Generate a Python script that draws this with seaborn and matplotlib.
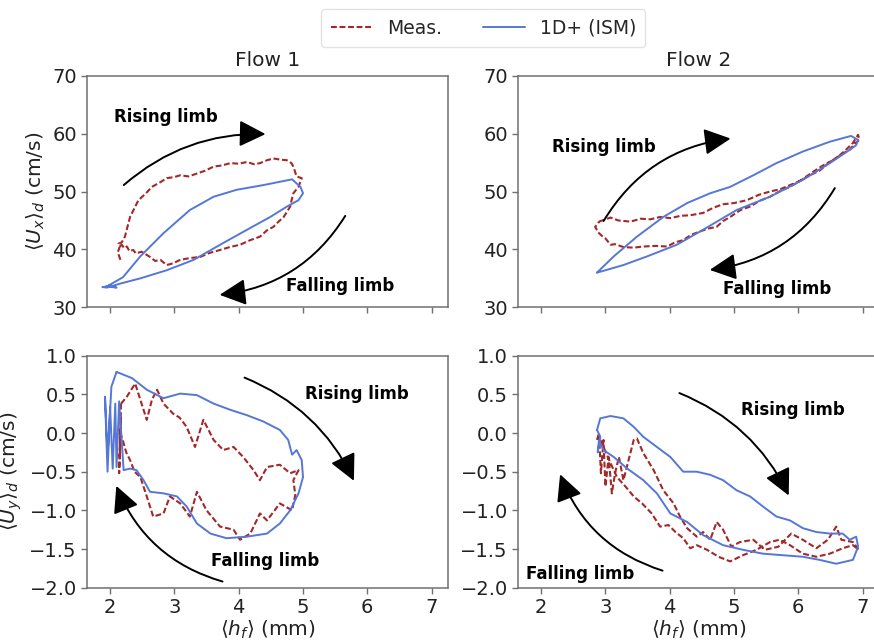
import matplotlib
matplotlib.use("Agg")
import matplotlib.pyplot as plt
import seaborn as sns
import pandas as pd
from matplotlib.patches import FancyArrowPatch

# ---------------- data ----------------
flows = ["Flow 1", "Flow 2"]
series_names = ["Meas.", "1D+ (ISM)"]
x_ticks = [2, 3, 4, 5, 6, 7]
ux_ticks = [30, 40, 50, 60, 70]
uy_ticks = [-2.0, -1.5, -1.0, -0.5, 0.0, 0.5, 1.0]

# Flow 1, <Ux>_d
f1_ux_meas_h = [2.16, 2.12, 2.15, 2.13, 2.18, 2.23, 2.31, 2.44, 2.55, 2.65, 2.78, 2.88, 3.00, 3.09, 3.22,
                3.35, 3.48, 3.61, 3.74, 3.87, 4.00, 4.13, 4.24, 4.33, 4.44, 4.54, 4.65, 4.75, 4.82,
                4.85, 4.90, 4.98, 4.93, 4.85, 4.82, 4.80, 4.75, 4.70, 4.62, 4.54, 4.44, 4.33, 4.18,
                4.02, 3.86, 3.71, 3.55, 3.40, 3.24, 3.09, 2.98, 2.88, 2.78, 2.70, 2.62, 2.49, 2.40,
                2.36, 2.30, 2.26, 2.22, 2.18, 2.15]
f1_ux_meas_u = [38.2, 39.5, 40.5, 41.0, 41.2, 42.2, 45.6, 48.5, 49.6, 50.8, 51.6, 52.3, 52.5, 52.8, 52.6,
                53.1, 53.6, 54.3, 54.5, 54.9, 54.8, 55.1, 54.7, 54.9, 55.4, 55.7, 55.5, 55.4, 54.9,
                54.3, 52.6, 52.3, 50.8, 49.7, 48.4, 47.4, 46.5, 45.6, 44.8, 43.9, 43.3, 42.2, 41.6,
                40.8, 40.4, 39.9, 39.4, 38.7, 38.5, 38.2, 37.6, 37.3, 38.2, 38.0, 38.7, 39.6, 39.3,
                39.9, 39.7, 40.5, 40.2, 40.8, 40.5]
f1_ux_ism_h = [1.90, 2.00, 2.10, 1.95, 2.20, 2.47, 2.83, 3.24, 3.61, 3.97, 4.38, 4.83, 4.96, 5.00, 4.93,
               4.75, 4.49, 4.13, 3.71, 3.30, 2.88, 2.47, 2.16, 1.95, 1.88]
f1_ux_ism_u = [33.5, 33.8, 33.4, 33.6, 35.2, 38.8, 42.8, 46.8, 49.1, 50.3, 51.1, 52.1, 50.8, 49.7, 48.5,
               47.4, 45.6, 43.4, 40.8, 38.2, 36.4, 35.0, 34.1, 33.4, 33.5]

# Flow 2, <Ux>_d
f2_ux_meas_h = [2.90, 3.08, 3.20, 3.39, 3.55, 3.70, 3.85, 4.01, 4.17, 4.32, 4.52, 4.68, 4.83, 5.00, 5.20,
                5.38, 5.56, 5.72, 5.87, 6.02, 6.18, 6.33, 6.49, 6.62, 6.75, 6.85, 6.93, 6.95, 6.88,
                6.80, 6.68, 6.54, 6.40, 6.23, 6.05, 5.87, 5.72, 5.56, 5.40, 5.25, 5.10, 4.94, 4.83,
                4.73, 4.60, 4.47, 4.33, 4.21, 4.08, 3.96, 3.78, 3.59, 3.44, 3.28, 3.15, 3.08, 3.00,
                2.95, 2.90, 2.86, 2.84, 2.88, 2.90]
f2_ux_meas_u = [44.8, 45.5, 45.0, 44.8, 45.3, 45.2, 45.6, 45.4, 45.8, 45.9, 46.3, 47.2, 47.8, 48.0, 48.5,
                49.4, 50.0, 50.4, 51.1, 51.8, 52.8, 53.6, 55.1, 56.0, 57.3, 58.4, 59.8, 58.9, 58.3,
                57.2, 56.5, 55.4, 54.6, 53.4, 52.0, 50.8, 50.1, 49.1, 48.4, 47.4, 46.8, 45.6, 44.9,
                43.9, 43.6, 43.1, 42.5, 41.6, 41.2, 40.5, 40.6, 40.5, 40.3, 40.4, 40.9, 40.8, 41.9,
                42.3, 42.8, 43.5, 43.9, 44.4, 44.8]
f2_ux_ism_h = [2.87, 3.13, 3.49, 3.90, 4.27, 4.63, 4.94, 5.30, 5.66, 6.07, 6.49, 6.82, 6.93, 6.90, 6.80,
               6.49, 6.07, 5.56, 5.04, 4.52, 4.11, 3.65, 3.28, 2.97, 2.87]
f2_ux_ism_u = [36.0, 38.8, 42.2, 45.6, 48.0, 49.7, 50.8, 52.8, 54.9, 56.9, 58.6, 59.6, 58.9, 58.0, 57.2,
               54.9, 52.0, 49.1, 46.8, 43.4, 40.8, 38.8, 37.3, 36.3, 36.0]

# Flow 1, <Uy>_d
f1_uy_meas_h = [2.17, 2.26, 2.39, 2.47, 2.57, 2.65, 2.73, 2.83, 2.98, 3.08, 3.19, 3.32, 3.45, 3.61, 3.76,
                3.92, 4.07, 4.23, 4.33, 4.44, 4.64, 4.80, 4.93, 4.85, 4.88, 4.83, 4.64, 4.44, 4.33,
                4.18, 4.02, 3.92, 3.71, 3.50, 3.35, 3.24, 3.09, 2.93, 2.83, 2.67, 2.57, 2.47, 2.38,
                2.31, 2.25, 2.21, 2.16, 2.14, 2.17, 2.15, 2.17]
f1_uy_meas_u = [0.38, 0.47, 0.64, 0.43, 0.17, 0.43, 0.56, 0.38, 0.25, 0.20, 0.08, -0.18, 0.17, -0.09, -0.22,
                -0.18, -0.31, -0.48, -0.61, -0.44, -0.41, -0.52, -0.48, -0.61, -0.80, -1.00, -0.91, -1.13, -1.04,
                -1.30, -1.38, -1.25, -1.21, -1.00, -0.76, -1.08, -0.91, -0.82, -1.04, -1.08, -0.82, -0.57, -0.50,
                -0.35, -0.25, -0.13, 0.00, -0.52, 0.21, -0.30, 0.38]
f1_uy_ism_h = [2.10, 2.34, 2.57, 2.83, 3.09, 3.35, 3.61, 3.87, 4.13, 4.38, 4.64, 4.77, 4.83, 4.90, 4.98,
               5.00, 4.93, 4.80, 4.64, 4.44, 4.13, 3.81, 3.56, 3.35, 3.19, 3.04, 2.83, 2.62, 2.52,
               2.41, 2.31, 2.21, 2.14, 2.10, 2.08, 2.04, 2.00, 1.96, 1.92, 1.96, 2.02, 2.10]
f1_uy_ism_u = [0.79, 0.71, 0.56, 0.45, 0.51, 0.49, 0.38, 0.30, 0.23, 0.15, 0.04, -0.09, -0.28, -0.22, -0.35,
               -0.57, -0.78, -1.00, -1.17, -1.30, -1.34, -1.36, -1.30, -1.17, -0.95, -0.82, -0.78, -0.76, -0.61,
               -0.48, -0.46, -0.48, 0.41, -0.44, 0.38, -0.46, 0.34, -0.50, 0.47, -0.30, 0.60, 0.79]

# Flow 2, <Uy>_d
f2_uy_meas_h = [2.87, 2.90, 2.93, 2.97, 3.00, 3.05, 3.10, 3.15, 3.21, 3.28, 3.36, 3.44, 3.49, 3.59, 3.75,
                3.90, 4.06, 4.16, 4.27, 4.42, 4.52, 4.63, 4.73, 4.83, 4.96, 5.09, 5.30, 5.48, 5.69,
                5.89, 6.07, 6.28, 6.46, 6.59, 6.67, 6.85, 6.94, 6.85, 6.69, 6.49, 6.28, 6.07, 5.87,
                5.71, 5.56, 5.35, 5.14, 4.94, 4.76, 4.58, 4.42, 4.32, 4.21, 4.09, 3.98, 3.85, 3.72,
                3.57, 3.44, 3.31, 3.18, 3.08, 2.97, 2.90]
f2_uy_meas_u = [-0.09, 0.00, -0.52, -0.09, -0.69, -0.31, -0.78, -0.52, -0.31, -0.61, -0.35, -0.09, -0.07, -0.26, -0.48,
                -0.74, -0.91, -1.08, -1.23, -1.34, -1.28, -1.38, -1.15, -1.25, -1.47, -1.41, -1.38, -1.51, -1.47,
                -1.30, -1.38, -1.49, -1.38, -1.21, -1.38, -1.41, -1.51, -1.45, -1.49, -1.56, -1.60, -1.56, -1.45,
                -1.38, -1.41, -1.51, -1.58, -1.66, -1.60, -1.51, -1.45, -1.49, -1.36, -1.28, -1.19, -1.21, -1.04,
                -0.91, -0.82, -0.69, -0.57, -0.39, -0.18, -0.05]
f2_uy_ism_h = [2.87, 2.92, 3.08, 3.28, 3.44, 3.59, 3.80, 4.01, 4.21, 4.42, 4.63, 4.83, 5.04, 5.25, 5.45,
               5.66, 5.87, 6.07, 6.28, 6.49, 6.69, 6.80, 6.90, 6.93, 6.85, 6.59, 6.33, 6.07, 5.76,
               5.45, 5.14, 4.83, 4.52, 4.27, 4.01, 3.80, 3.59, 3.34, 3.13, 2.97, 2.90, 2.88, 2.92, 2.87]
f2_uy_ism_u = [0.04, 0.19, 0.22, 0.19, 0.08, -0.05, -0.18, -0.31, -0.50, -0.50, -0.54, -0.61, -0.74, -0.82, -0.95,
               -1.08, -1.13, -1.23, -1.28, -1.30, -1.30, -1.38, -1.34, -1.47, -1.64, -1.69, -1.64, -1.60, -1.58,
               -1.56, -1.51, -1.45, -1.32, -1.15, -1.04, -0.78, -0.61, -0.46, -0.31, -0.22, -0.09, -0.25, -0.05, 0.04]

# annotation texts
rising_label = "Rising limb"
falling_label = "Falling limb"

# ---------------- styling ----------------
sns.set_theme(style="ticks")
plt.rcParams['font.family'] = ['DejaVu Sans']
plt.rcParams['mathtext.fontset'] = 'dejavusans'

meas_color = "#a3282a"
ism_color = "#5577d6"
spine_color = "#707070"
text_color = "#222222"

fig = plt.figure(figsize=(8.74, 6.41), dpi=100)
W, H = 874.0, 641.0
ax_w = 360.7 / W
left_x = [87.3 / W, 518.3 / W]
top_y = (641 - 307.3) / H
top_h = (307.3 - 75.7) / H
bot_y = (641 - 587.7) / H
bot_h = (587.7 - 355.7) / H

axes = [[fig.add_axes([left_x[c], top_y, ax_w, top_h]) for c in range(2)],
        [fig.add_axes([left_x[c], bot_y, ax_w, bot_h]) for c in range(2)]]

data = {
    (0, 0): (f1_ux_meas_h, f1_ux_meas_u, f1_ux_ism_h, f1_ux_ism_u),
    (0, 1): (f2_ux_meas_h, f2_ux_meas_u, f2_ux_ism_h, f2_ux_ism_u),
    (1, 0): (f1_uy_meas_h, f1_uy_meas_u, f1_uy_ism_h, f1_uy_ism_u),
    (1, 1): (f2_uy_meas_h, f2_uy_meas_u, f2_uy_ism_h, f2_uy_ism_u),
}

for (r, c), (mh, mu, ih, iu) in data.items():
    ax = axes[r][c]
    dm = pd.DataFrame({"h": mh, "u": mu})
    di = pd.DataFrame({"h": ih, "u": iu})
    sns.lineplot(data=dm, x="h", y="u", sort=False, estimator=None, ax=ax,
                 color=meas_color, lw=1.5, linestyle=(0, (2.8, 1.3)),
                 label=series_names[0] if (r, c) == (0, 0) else None)
    sns.lineplot(data=di, x="h", y="u", sort=False, estimator=None, ax=ax,
                 color=ism_color, lw=1.4,
                 label=series_names[1] if (r, c) == (0, 0) else None)
    ax.set_xlim(1.645, 7.255)
    ax.set_xticks(x_ticks)
    if r == 0:
        ax.set_ylim(30, 70)
        ax.set_yticks(ux_ticks)
        ax.set_xticklabels([])
        ax.set_xlabel("")
        ax.set_title(flows[c], fontsize=14.5, color=text_color, pad=7)
    else:
        ax.set_ylim(-2.0, 1.0)
        ax.set_yticks(uy_ticks)
        ax.set_yticklabels([f"{v:.1f}".replace("-", "\u2212") for v in uy_ticks])
        ax.set_xlabel(r"$\langle h_f\rangle$ (mm)", fontsize=14.5, color=text_color, labelpad=1)
    if c == 0:
        ax.set_ylabel(r"$\langle U_x\rangle_d$ (cm/s)" if r == 0 else r"$\langle U_y\rangle_d$ (cm/s)",
                      fontsize=14.5, color=text_color, labelpad=4)
    else:
        ax.set_ylabel("")
    for s in ax.spines.values():
        s.set_color(spine_color)
        s.set_linewidth(1.1)
    ax.tick_params(colors=spine_color, labelcolor=text_color, labelsize=14, length=4, width=1)
    if ax.get_legend() is not None:
        ax.get_legend().remove()

# legend
handles, labels = axes[0][0].get_legend_handles_labels()
fig.legend(handles, labels, loc="upper center", bbox_to_anchor=(0.553, 1.0), ncol=2,
           fontsize=13.5, frameon=True, fancybox=True, handlelength=2.2, columnspacing=2.2,
           borderpad=0.5, edgecolor="#dddddd")

# arrows and limb texts
def arc(ax, start, end, rad):
    ax.add_patch(FancyArrowPatch(start, end, connectionstyle=f"arc3,rad={rad}",
                                 arrowstyle="-|>,head_length=0.9,head_width=0.45",
                                 mutation_scale=18, color="black", lw=1.4, zorder=5))

def label(ax, x, y, s):
    ax.text(x, y, s, fontsize=12, fontweight="bold", ha="center", va="center", color="black")

a = axes[0][0]
label(a, 2.86, 62.9, rising_label)
arc(a, (2.18, 50.8), (4.46, 59.9), -0.2)
label(a, 5.58, 33.6, falling_label)
arc(a, (5.68, 46.2), (3.66, 32.1), -0.25)

a = axes[0][1]
label(a, 2.98, 57.6, rising_label)
arc(a, (2.95, 44.5), (4.99, 59.2), -0.25)
label(a, 5.67, 33.1, falling_label)
arc(a, (6.59, 51.0), (4.58, 36.4), -0.25)

a = axes[1][0]
label(a, 5.84, 0.51, rising_label)
arc(a, (4.05, 0.73), (5.81, -0.65), -0.2)
label(a, 4.41, -1.66, falling_label)
arc(a, (3.79, -1.93), (2.08, -0.65), -0.25)

a = axes[1][1]
label(a, 5.91, 0.30, rising_label)
arc(a, (4.11, 0.53), (5.87, -0.84), -0.2)
label(a, 2.61, -1.82, falling_label)
arc(a, (3.93, -1.79), (2.28, -0.50), -0.25)

fig.savefig("out.png", dpi=100)
